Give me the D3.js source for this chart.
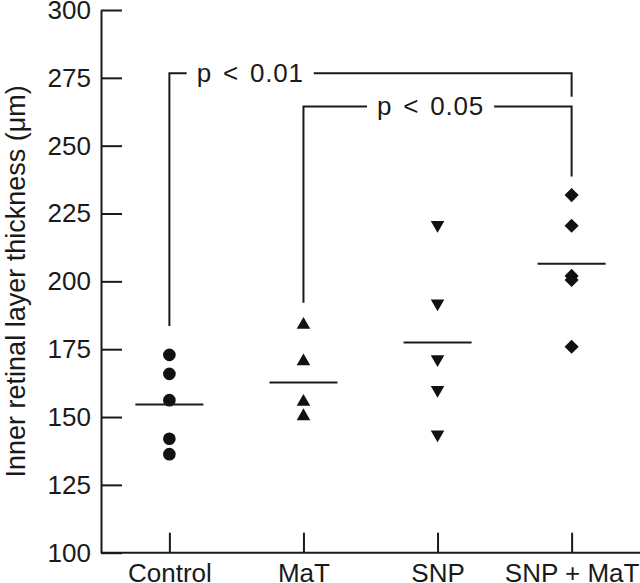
<!DOCTYPE html>
<html>
<head>
<meta charset="utf-8">
<script src="https://cdn.jsdelivr.net/npm/d3@7"></script>
<style>
  html, body { margin: 0; padding: 0; background: #fff; }
  svg { display: block; }
  text { font-family: "Liberation Sans", Arial, sans-serif; fill: #1a1a1a; }
</style>
</head>
<body>
<svg id="chart" width="640" height="583"></svg>
<script>
// ---- data ----
const categories = ["Control", "MaT", "SNP", "SNP + MaT"];
const controlValues = [172.9, 165.9, 156.2, 142.0, 136.3];
const matValues = [184.0, 170.5, 155.6, 150.3];
const snpValues = [220.8, 191.9, 171.3, 160.0, 143.6];
const snpMatValues = [231.8, 220.5, 202.0, 200.5, 175.9];
const groupMeans = [154.6, 162.7, 177.5, 206.5];
const yTicks = [100, 125, 150, 175, 200, 225, 250, 275, 300];
const yLabel = "Inner retinal layer thickness (\u03bcm)";
// brackets: from category, to category, bar level, left drop end, right drop end, label, label position fraction
const bracketLabels = ["p < 0.01", "p < 0.05"];
const bracketFrom = ["Control", "MaT"];
const bracketTo = ["SNP + MaT", "SNP + MaT"];
const bracketLevel = [276.7, 264.4];
const bracketLeftEnd = [183.5, 192.1];
const bracketRightEnd = [268.0, 238.6];
const bracketLabelFrac = [0.201, 0.474];

const seriesValues = [controlValues, matValues, snpValues, snpMatValues];
const seriesShapes = ["circle", "triangleUp", "triangleDown", "diamond"];

// ---- layout ----
const svg = d3.select("#chart");
const x = d3.scalePoint().domain(categories).range([101, 640]).padding(0.51);
const y = d3.scaleLinear().domain([100, 300]).range([552.7, 10]);
const ink = "#1a1a1a";
const fs = 26;

// y axis
const yAxis = svg.append("g").attr("transform", "translate(101,0)")
  .call(d3.axisLeft(y).tickValues(yTicks).tickSizeInner(-21).tickSizeOuter(0).tickPadding(10));
yAxis.select(".domain").attr("stroke", ink).attr("stroke-width", 2);
yAxis.selectAll(".tick line").attr("stroke", ink).attr("stroke-width", 2);
yAxis.selectAll(".tick text").attr("font-size", fs).attr("font-family", null).attr("fill", ink);

// x axis
const xAxis = svg.append("g").attr("transform", "translate(0,552.7)")
  .call(d3.axisBottom(x).tickSizeInner(-20).tickSizeOuter(0).tickPadding(10.5));
xAxis.select(".domain").attr("d", "M101,0H640").attr("stroke", ink).attr("stroke-width", 2);
xAxis.selectAll(".tick line").attr("stroke", ink).attr("stroke-width", 2);
xAxis.selectAll(".tick text").attr("font-size", fs).attr("font-family", null).attr("fill", ink);

// y label
svg.append("text")
  .attr("transform", `translate(25,${(y(100) + y(300)) / 2}) rotate(-90)`)
  .attr("text-anchor", "middle")
  .attr("font-size", 27)
  .text(yLabel);

// symbols
function symbolPath(shape) {
  if (shape === "circle") return d3.symbol().type(d3.symbolCircle).size(Math.PI * 40)();
  if (shape === "triangleUp" || shape === "triangleDown") return d3.symbol().type(d3.symbolTriangle).size(80)();
  return d3.symbol().type(d3.symbolSquare).size(100)();
}
function symbolRotate(shape) {
  if (shape === "triangleDown") return 180;
  if (shape === "diamond") return 45;
  return 0;
}

const pts = svg.append("g");
categories.forEach((c, i) => {
  pts.selectAll(null).data(seriesValues[i]).enter().append("path")
    .attr("d", symbolPath(seriesShapes[i]))
    .attr("transform", d => `translate(${x(c)},${y(d)}) rotate(${symbolRotate(seriesShapes[i])})`)
    .attr("fill", "#111");
});

// mean lines
svg.append("g").selectAll("line").data(categories).enter().append("line")
  .attr("x1", c => x(c) - 34).attr("x2", c => x(c) + 34)
  .attr("y1", (c, i) => y(groupMeans[i])).attr("y2", (c, i) => y(groupMeans[i]))
  .attr("stroke", ink).attr("stroke-width", 2);

// brackets
const br = svg.append("g");
bracketLabels.forEach((lab, i) => {
  const xl = x(bracketFrom[i]), xr = x(bracketTo[i]);
  const yl = y(bracketLevel[i]);
  const tx = xl + bracketLabelFrac[i] * (xr - xl);
  const t = br.append("text").attr("x", tx).attr("y", yl + 8.5)
    .attr("text-anchor", "middle").attr("font-size", fs)
    .attr("word-spacing", 3).attr("letter-spacing", 0.8).text(lab);
  const bb = t.node().getBBox();
  const gap = 10;
  br.append("path")
    .attr("d", `M${xl},${y(bracketLeftEnd[i])}V${yl}H${bb.x - gap}`)
    .attr("fill", "none").attr("stroke", ink).attr("stroke-width", 2);
  br.append("path")
    .attr("d", `M${bb.x + bb.width + gap},${yl}H${xr}V${y(bracketRightEnd[i])}`)
    .attr("fill", "none").attr("stroke", ink).attr("stroke-width", 2);
});
</script>
</body>
</html>
